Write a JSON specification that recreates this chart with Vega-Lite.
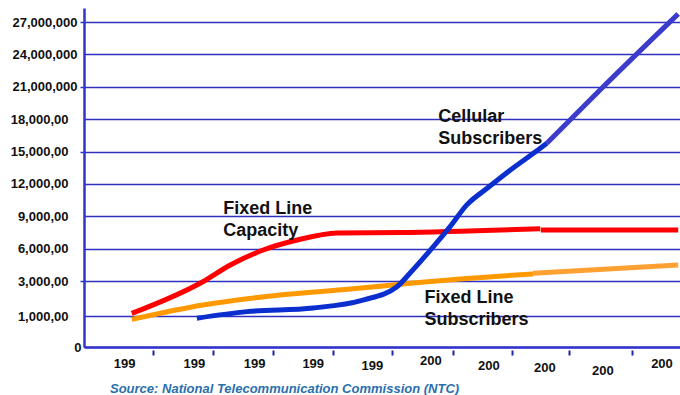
{
  "$schema": "https://vega.github.io/schema/vega-lite/v6.json",
  "width": 596,
  "height": 339,
  "autosize": {"type": "none"},
  "padding": {"left": 84, "top": 8, "right": 0, "bottom": 48},
  "background": "white",
  "config": {
    "view": {"stroke": null},
    "font": "Liberation Sans",
    "axisY": {"labelOverlap": false, "labelFlush": false, "tickCount": 30},
    "axisX": {"labelOverlap": false, "labelFlush": false, "tickCount": 30}
  },
  "title": {
    "text": "Source: National Telecommunication Commission (NTC)",
    "orient": "bottom",
    "anchor": "start",
    "frame": "group",
    "font": "Liberation Sans",
    "fontSize": 13,
    "fontWeight": "bold",
    "fontStyle": "italic",
    "color": "#2a6fae",
    "dx": 26,
    "offset": 6
  },
  "datasets": {
    "lines": [
      {"series": "CapA", "x": 0.13, "y": 1.15},
      {"series": "CapA", "x": 1.32, "y": 2.96},
      {"series": "CapA", "x": 1.78, "y": 4.48},
      {"series": "CapA", "x": 2.33, "y": 5.87},
      {"series": "CapA", "x": 2.9, "y": 6.8},
      {"series": "CapA", "x": 3.57, "y": 7.45},
      {"series": "CapA", "x": 4.62, "y": 7.5},
      {"series": "CapA", "x": 6.97, "y": 7.85},
      {"series": "CapB", "x": 6.98, "y": 7.73},
      {"series": "CapB", "x": 9.28, "y": 7.73},
      {"series": "SubA", "x": 0.13, "y": 0.89},
      {"series": "SubA", "x": 1.32, "y": 1.63},
      {"series": "SubA", "x": 2.61, "y": 2.2},
      {"series": "SubA", "x": 3.79, "y": 2.54},
      {"series": "SubA", "x": 4.79, "y": 2.87},
      {"series": "SubA", "x": 5.63, "y": 3.19},
      {"series": "SubA", "x": 6.85, "y": 3.65},
      {"series": "SubB", "x": 6.85, "y": 3.71},
      {"series": "SubB", "x": 9.28, "y": 4.48},
      {"series": "CellA", "x": 1.22, "y": 0.93},
      {"series": "CellA", "x": 2.06, "y": 1.25},
      {"series": "CellA", "x": 3.17, "y": 1.46},
      {"series": "CellA", "x": 4.0, "y": 1.91},
      {"series": "CellA", "x": 4.57, "y": 2.67},
      {"series": "CellA", "x": 4.79, "y": 3.74},
      {"series": "CellA", "x": 5.18, "y": 6.19},
      {"series": "CellA", "x": 5.46, "y": 8.04},
      {"series": "CellA", "x": 5.74, "y": 10.05},
      {"series": "CellA", "x": 6.08, "y": 11.59},
      {"series": "CellA", "x": 6.47, "y": 13.29},
      {"series": "CellA", "x": 6.97, "y": 15.3},
      {"series": "CellA", "x": 7.08, "y": 15.76},
      {"series": "CellB", "x": 7.08, "y": 15.76},
      {"series": "CellB", "x": 7.97, "y": 20.7},
      {"series": "CellB", "x": 9.28, "y": 27.75}
    ],
    "labels": [
      {"text": "Cellular\nSubscribers", "x": 5.26, "y": 17.74},
      {"text": "Fixed Line\nCapacity", "x": 1.66, "y": 9.21},
      {"text": "Fixed Line\nSubscribers", "x": 5.03, "y": 1.73}
    ]
  },
  "layer": [
    {
      "data": {"name": "lines"},
      "mark": {"type": "line", "strokeWidth": 5, "interpolate": "monotone", "strokeCap": "butt"},
      "encoding": {
        "x": {
          "field": "x",
          "type": "quantitative",
          "scale": {"domain": [-0.67, 9.31], "nice": false, "zero": false},
          "axis": {
            "values": [0, 1.17, 2.18, 3.16, 4.15, 5.13, 6.1, 7.04, 8.01, 9.0],
            "tickCount": 30,
            "labelExpr": "datum.value < 4.5 ? '199' : '200'",
            "title": null,
            "grid": false,
            "ticks": false,
            "domainColor": "#3333cc",
            "domainWidth": 2.5,
            "labelFont": "Liberation Sans",
            "labelFontSize": 13,
            "labelFontWeight": "bold",
            "labelColor": "#111111",
            "labelBaseline": "top",
            "labelFlush": false,
            "labelOverlap": false,
            "labelPadding": {
              "condition": [
                {"test": "datum.value > 4.5 && datum.value < 5.5", "value": 7},
                {"test": "datum.value > 6.5 && datum.value < 7.5", "value": 14},
                {"test": "datum.value > 7.5 && datum.value < 8.5", "value": 17},
                {"test": "datum.value > 3.5 && datum.value < 6.5", "value": 12}
              ],
              "value": 10
            }
          }
        },
        "y": {
          "field": "y",
          "type": "quantitative",
          "scale": {"domain": [0, 1, 3, 28.3], "range": [339, 308, 273, 0], "nice": false, "zero": false},
          "axis": {
            "values": [0, 1, 3, 6, 9, 12, 15, 18, 21, 24, 27],
            "tickCount": 30,
            "labelExpr": "datum.value == 0 ? '0' : datum.value == 1 ? '1,000,00' : datum.value < 21 ? format(datum.value, 'd') + ',000,00' : format(datum.value, 'd') + ',000,000'",
            "title": null,
            "grid": true,
            "gridColor": "#3030c0",
            "gridWidth": 1.6,
            "domainColor": "#3333cc",
            "domainWidth": 2.5,
            "tickColor": "#3333cc",
            "tickSize": 4,
            "tickWidth": 1.5,
            "tickOpacity": {"condition": {"test": "datum.value == 27 || datum.value == 21 || datum.value == 15 || datum.value == 3", "value": 1}, "value": 0},
            "labelFont": "Liberation Sans",
            "labelFontSize": 13,
            "labelFontWeight": "bold",
            "labelColor": "#111111",
            "labelOverlap": false,
            "labelFlush": false,
            "labelPadding": {
              "condition": [
                {"test": "datum.value == 0", "value": -1},
                {"test": "datum.value >= 21", "value": 3}
              ],
              "value": 12
            }
          }
        },
        "color": {
          "field": "series",
          "type": "nominal",
          "scale": {
            "domain": ["CapA", "CapB", "SubA", "SubB", "CellA", "CellB"],
            "range": ["#ff0000", "#ff0000", "#ff9900", "#ffa033", "#0b2ecf", "#3b3bcc"]
          },
          "legend": null
        },
        "detail": {"field": "series"}
      }
    },
    {
      "data": {"name": "labels"},
      "mark": {"type": "text", "align": "left", "baseline": "alphabetic", "font": "Liberation Sans", "fontSize": 18, "fontWeight": "bold", "color": "#111111", "lineBreak": "\n", "lineHeight": 22},
      "encoding": {
        "x": {
          "field": "x",
          "type": "quantitative",
          "axis": {
            "values": [0.49, 1.49, 2.49, 3.5, 4.49, 5.51, 6.5, 7.45, 8.51],
            "tickCount": 30,
            "labels": false,
            "domain": false,
            "grid": false,
            "ticks": true,
            "tickSize": 5,
            "tickWidth": 2,
            "tickColor": "#2020b0",
            "offset": 3,
            "orient": "bottom",
            "title": null
          }
        },
        "y": {"field": "y", "type": "quantitative"},
        "text": {"field": "text"}
      }
    }
  ],
  "resolve": {"axis": {"x": "independent"}}
}
